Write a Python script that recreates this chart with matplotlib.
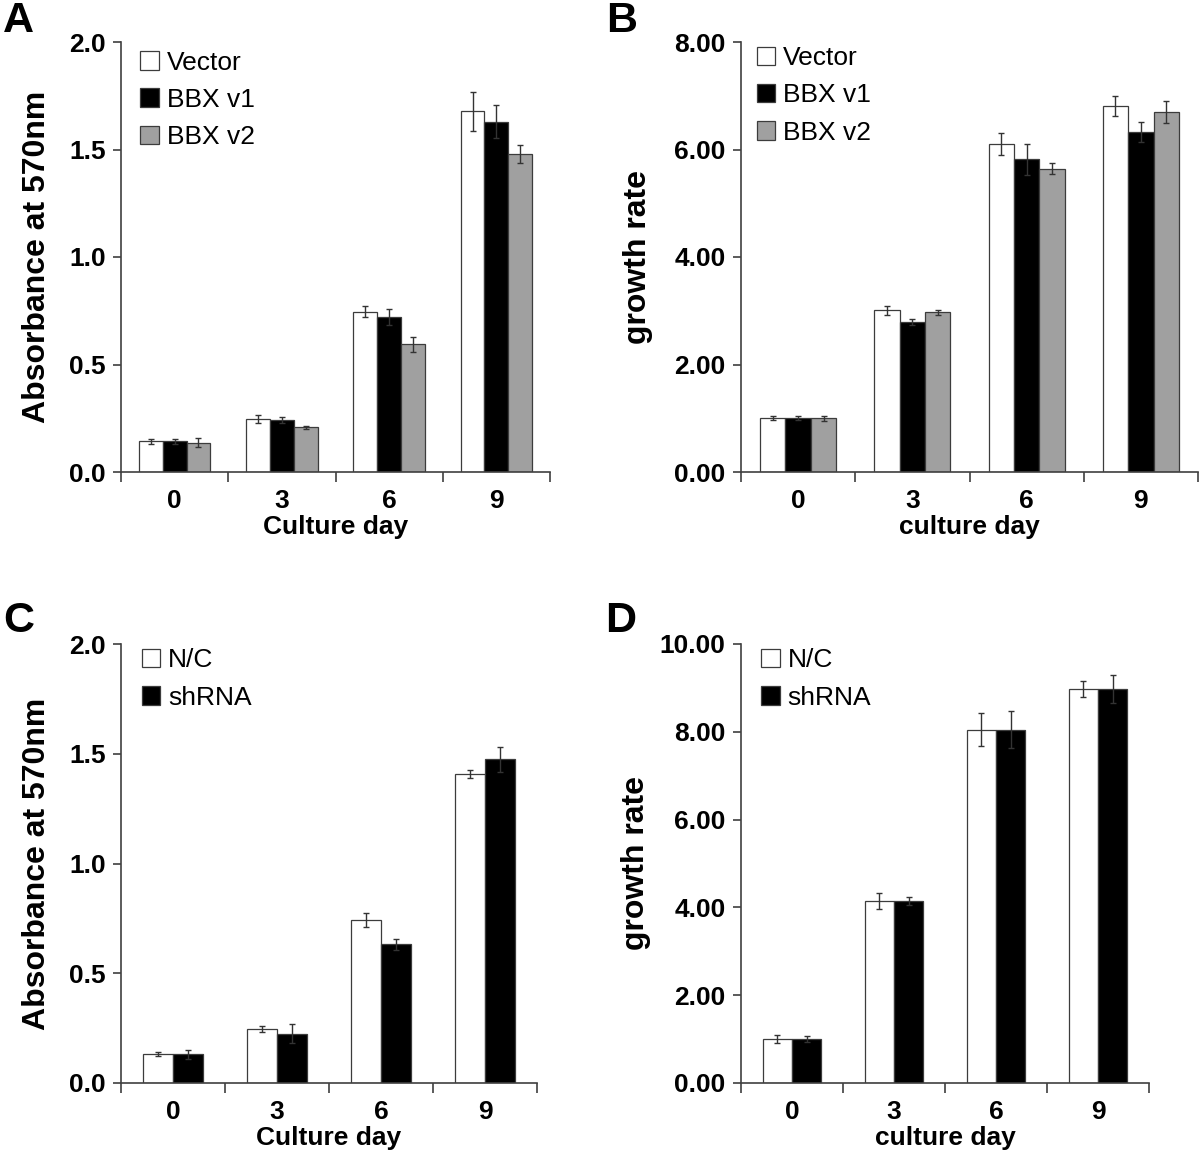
import matplotlib
matplotlib.use("Agg")
import matplotlib.pyplot as plt
import numpy as np
from matplotlib.patches import Patch
from matplotlib.ticker import FixedLocator, FormatStrFormatter, NullFormatter

plt.rcParams['font.family'] = ['Liberation Sans', 'DejaVu Sans']

days = ["0", "3", "6", "9"]

# Panel A: absorbance, overexpression
a_vector = [0.142, 0.247, 0.746, 1.677]
a_vector_err = [0.011, 0.019, 0.027, 0.089]
a_v1 = [0.142, 0.242, 0.720, 1.630]
a_v1_err = [0.011, 0.013, 0.038, 0.078]
a_v2 = [0.137, 0.207, 0.594, 1.479]
a_v2_err = [0.021, 0.008, 0.035, 0.043]

# Panel B: growth rate, overexpression
b_vector = [1.00, 3.01, 6.10, 6.81]
b_vector_err = [0.04, 0.08, 0.21, 0.19]
b_v1 = [1.00, 2.79, 5.82, 6.33]
b_v1_err = [0.04, 0.05, 0.29, 0.19]
b_v2 = [1.00, 2.97, 5.64, 6.70]
b_v2_err = [0.05, 0.045, 0.10, 0.20]

# Panel C: absorbance, knockdown
c_nc = [0.133, 0.246, 0.742, 1.409]
c_nc_err = [0.010, 0.013, 0.031, 0.018]
c_sh = [0.130, 0.225, 0.632, 1.475]
c_sh_err = [0.019, 0.042, 0.024, 0.058]

# Panel D: growth rate, knockdown
d_nc = [1.01, 4.15, 8.05, 8.97]
d_nc_err = [0.09, 0.18, 0.37, 0.18]
d_sh = [1.01, 4.15, 8.05, 8.97]
d_sh_err = [0.065, 0.09, 0.43, 0.32]

labels3 = ["Vector", "BBX v1", "BBX v2"]
labels2 = ["N/C", "shRNA"]
fills3 = ["white", "black", "#a0a0a0"]
fills2 = ["white", "black"]

EDGE = "#3c3c3c"
AXC = "#404040"

fig = plt.figure(figsize=(12, 11.58), dpi=100)

axA = fig.add_axes([121/1200, 1-472/1158, 429/1200, 430/1158])
axB = fig.add_axes([741/1200, 1-472/1158, 457/1200, 430/1158])
axC = fig.add_axes([121/1200, 1-1083/1158, 416/1200, 439/1158])
axD = fig.add_axes([741/1200, 1-1083/1158, 408/1200, 439/1158])

def draw(ax, series, errs, fills, labels, ylim, ystep, yfmt, ylabel, xlabel,
         ylab_x, xlab_y, leg_xy):
    n = len(series)
    w = 1.0 / (n + 1.5)
    x = np.arange(len(days)) + 0.5
    handles = []
    for i, (vals, er, fc, lab) in enumerate(zip(series, errs, fills, labels)):
        off = (i - (n - 1) / 2) * w
        ax.bar(x + off, vals, width=w, color=fc, edgecolor=EDGE, linewidth=0.9,
               zorder=2)
        ax.errorbar(x + off, vals, yerr=er, fmt='none', ecolor="#333333",
                    elinewidth=1.0, capsize=2.5, capthick=1.0, zorder=3)
        handles.append(Patch(facecolor=fc, edgecolor=EDGE, linewidth=0.9, label=lab))
    ax.set_xlim(0, len(days))
    ax.set_ylim(*ylim)
    for s in ["top", "right"]:
        ax.spines[s].set_visible(False)
    for s in ["left", "bottom"]:
        ax.spines[s].set_color(AXC)
        ax.spines[s].set_linewidth(1.2)
    ax.xaxis.set_major_locator(FixedLocator(np.arange(len(days) + 1)))
    ax.xaxis.set_major_formatter(NullFormatter())
    ax.xaxis.set_minor_locator(FixedLocator(x))
    ax.set_xticklabels(days, minor=True)
    ax.tick_params(axis='x', which='major', direction='out', length=7,
                   width=1.2, color=AXC)
    ax.tick_params(axis='x', which='minor', length=0, pad=12,
                   labelsize=19)
    for t in ax.get_xticklabels(minor=True):
        t.set_fontweight('bold')
    ax.set_yticks(np.arange(ylim[0], ylim[1] + ystep / 2, ystep))
    ax.yaxis.set_major_formatter(FormatStrFormatter(yfmt))
    ax.tick_params(axis='y', direction='out', length=6, width=1.2, color=AXC,
                   labelsize=19, pad=5)
    for t in ax.get_yticklabels():
        t.set_fontweight('bold')
    ax.set_ylabel(ylabel, fontsize=23, fontweight='bold')
    ax.yaxis.set_label_coords(ylab_x, 0.5)
    ax.set_xlabel(xlabel, fontsize=19, fontweight='bold')
    ax.xaxis.set_label_coords(0.5, xlab_y)
    ax.legend(handles=handles, loc='upper left', bbox_to_anchor=leg_xy,
              frameon=False, fontsize=19, handlelength=0.7, handleheight=0.7,
              handletextpad=0.3, labelspacing=0.5, borderpad=0,
              borderaxespad=0)

draw(axA, [a_vector, a_v1, a_v2], [a_vector_err, a_v1_err, a_v2_err], fills3,
     labels3, (0, 2.0), 0.5, '%.1f', "Absorbance at 570nm", "Culture day",
     -0.161, -0.1, (0.045, 0.98))
draw(axB, [b_vector, b_v1, b_v2], [b_vector_err, b_v1_err, b_v2_err], fills3,
     labels3, (0, 8.0), 2.0, '%.2f', "growth rate", "culture day",
     -0.193, -0.1, (0.034, 0.99))
draw(axC, [c_nc, c_sh], [c_nc_err, c_sh_err], fills2,
     labels2, (0, 2.0), 0.5, '%.1f', "Absorbance at 570nm", "Culture day",
     -0.166, -0.098, (0.05, 0.99))
draw(axD, [d_nc, d_sh], [d_nc_err, d_sh_err], fills2,
     labels2, (0, 10.0), 2.0, '%.2f', "growth rate", "culture day",
     -0.220, -0.098, (0.05, 0.99))

for lab, xp, yp in [("A", 3, 1), ("B", 606, 1), ("C", 3, 601), ("D", 605, 601)]:
    fig.text(xp / 1200, 1 - yp / 1158, lab, fontsize=31, fontweight='bold',
             va='top', ha='left')

fig.savefig("out.png", dpi=100, facecolor='white')
